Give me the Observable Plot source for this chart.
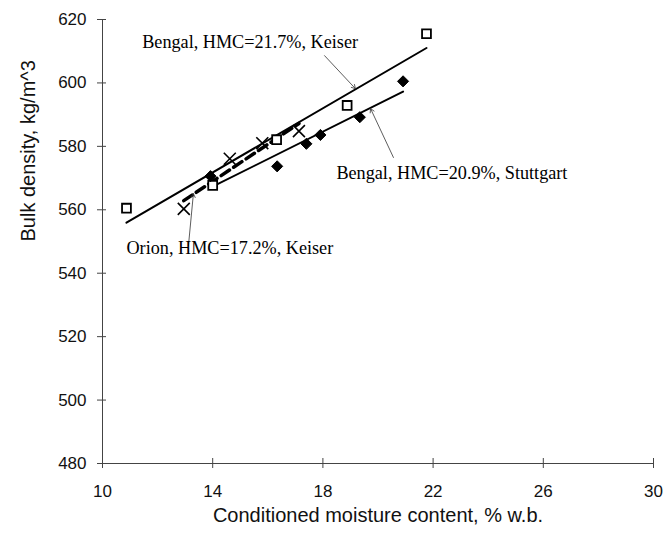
<!DOCTYPE html>
<html><head><meta charset="utf-8">
<script src="https://cdn.jsdelivr.net/npm/d3@7"></script>
<script src="https://cdn.jsdelivr.net/npm/@observablehq/plot@0.6"></script>
<style>html,body{margin:0;padding:0;background:#fff}#chart svg{display:block}</style>
</head><body><div id="chart"></div>
<script>
// Bengal, HMC=21.7%, Keiser (open squares)
const bengalKeiserMC = [10.87, 14.00, 16.32, 18.88, 21.76];
const bengalKeiserBD = [560.5, 567.7, 582.1, 592.9, 615.5];
// Bengal, HMC=20.9%, Stuttgart (filled diamonds)
const bengalStuttgartMC = [13.92, 16.34, 17.40, 17.91, 19.34, 20.91];
const bengalStuttgartBD = [570.6, 573.7, 580.8, 583.6, 589.2, 600.5];
// Orion, HMC=17.2%, Keiser (crosses)
const orionKeiserMC = [12.95, 14.62, 15.80, 17.13];
const orionKeiserBD = [560.3, 576.1, 581.0, 584.8];

const xTicks = [10, 14, 18, 22, 26, 30];
const yTicks = [480, 500, 520, 540, 560, 580, 600, 620];

// annotation labels (anchor in data units) and leader arrows
const annText = ["Bengal, HMC=21.7%, Keiser", "Bengal, HMC=20.9%, Stuttgart", "Orion, HMC=17.2%, Keiser"];
const annX = [11.44, 18.49, 10.87];
const annY = [612.8, 571.4, 547.8];
const arrX1 = [18.06, 20.56, 13.12];
const arrY1 = [608.6, 576.5, 548.7];
const arrX2 = [19.18, 19.73, 13.30];
const arrY2 = [598.2, 591.9, 565.1];

const toRows = (xs, ys) => xs.map((x, i) => ({x, y: ys[i]}));
const bk = toRows(bengalKeiserMC, bengalKeiserBD);
const bs = toRows(bengalStuttgartMC, bengalStuttgartBD);
const ok = toRows(orionKeiserMC, orionKeiserBD);
const ann = annText.map((t, i) => ({t, x: annX[i], y: annY[i], x1: arrX1[i], y1: arrY1[i], x2: arrX2[i], y2: arrY2[i]}));

const sans = "'Liberation Sans', Arial, sans-serif";
const serif = "'Liberation Serif', 'Times New Roman', serif";
const axisColor = "#444";

const chart = Plot.plot({
  width: 665, height: 533,
  marginLeft: 102, marginRight: 12, marginTop: 19, marginBottom: 70,
  style: {fontFamily: sans, background: "#fff", color: "#000"},
  x: {domain: [10, 30]},
  y: {domain: [480, 620]},
  marks: [
    Plot.ruleX([10], {stroke: axisColor, strokeWidth: 1}),
    Plot.ruleY([480], {stroke: axisColor, strokeWidth: 1}),
    Plot.axisX(xTicks, {tickSize: 10, dy: -5, fill: "none", stroke: axisColor}),
    Plot.axisY(yTicks, {tickSize: 9, dx: 4, fill: "none", stroke: axisColor}),
    Plot.axisX(xTicks, {tickSize: 0, tickPadding: 21, label: null, fontSize: 17, fontFamily: sans, fill: "#111"}),
    Plot.axisY(yTicks, {tickSize: 0, tickPadding: 16, label: null, fontSize: 17, fontFamily: sans, fill: "#111"}),
    Plot.text(["Conditioned moisture content, % w.b."], {frameAnchor: "bottom", dy: 58, fontSize: 20, fontFamily: sans, fill: "#111"}),
    Plot.text(["Bulk density, kg/m^3"], {frameAnchor: "left", rotate: -90, dx: -74, fontSize: 20, fontFamily: sans, fill: "#111"}),
    Plot.linearRegressionY(bk, {x: "x", y: "y", ci: 0, stroke: "#000", strokeWidth: 2}),
    Plot.linearRegressionY(bs, {x: "x", y: "y", ci: 0, stroke: "#000", strokeWidth: 2}),
    Plot.linearRegressionY(ok, {x: "x", y: "y", ci: 0, stroke: "#000", strokeWidth: 3.5, strokeDasharray: "10,5"}),
    Plot.dot(bk, {x: "x", y: "y", symbol: "square", r: 5, fill: "#fff", stroke: "#000", strokeWidth: 1.8}),
    Plot.dot(bs, {x: "x", y: "y", symbol: "diamond2", r: 5, fill: "#000", stroke: "#000", strokeWidth: 1}),
    Plot.dot(ok, {x: "x", y: "y", symbol: "times", r: 5.5, stroke: "#000", strokeWidth: 1.6}),
    Plot.arrow(ann, {x1: "x1", y1: "y1", x2: "x2", y2: "y2", stroke: "#333", strokeWidth: 0.8, headLength: 8}),
    Plot.text(ann, {x: "x", y: "y", text: "t", textAnchor: "start", fontSize: 18.2, fontFamily: serif, fill: "#000"})
  ]
});
document.getElementById("chart").appendChild(chart);
</script>
</body></html>
